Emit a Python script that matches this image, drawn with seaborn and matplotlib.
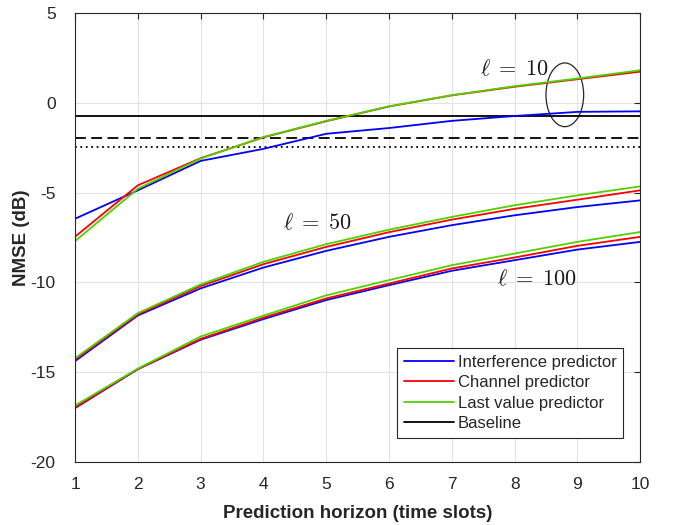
import numpy as np
import pandas as pd
import matplotlib
matplotlib.use('Agg')
import matplotlib.pyplot as plt
import seaborn as sns
from matplotlib.patches import Ellipse
from matplotlib.lines import Line2D

# Dane
horizon = [1, 2, 3, 4, 5, 6, 7, 8, 9, 10]

# l = 10
interf_10 = [-6.45, -4.87, -3.23, -2.56, -1.72, -1.40, -1.00, -0.73, -0.50, -0.47]
channel_10 = [-7.45, -4.59, -3.08, -1.92, -1.02, -0.20, 0.42, 0.90, 1.32, 1.74]
last_10 = [-7.70, -4.78, -3.10, -1.90, -1.00, -0.19, 0.43, 0.93, 1.36, 1.82]

# l = 50
interf_50 = [-14.38, -11.84, -10.33, -9.17, -8.24, -7.46, -6.81, -6.26, -5.80, -5.43]
channel_50 = [-14.29, -11.78, -10.20, -8.98, -8.02, -7.20, -6.50, -5.90, -5.39, -4.87]
last_50 = [-14.22, -11.71, -10.11, -8.85, -7.87, -7.06, -6.35, -5.70, -5.15, -4.65]

# l = 100
interf_100 = [-17.00, -14.83, -13.19, -12.04, -10.98, -10.15, -9.35, -8.76, -8.17, -7.74]
channel_100 = [-16.96, -14.82, -13.14, -11.96, -10.89, -10.06, -9.22, -8.61, -7.96, -7.46]
last_100 = [-16.85, -14.80, -13.01, -11.85, -10.72, -9.87, -9.04, -8.39, -7.74, -7.19]

baseline_levels = [-0.72, -1.95, -2.47]
baseline_styles = ['-', (0, (6, 3)), (0, (1, 2))]

ell_values = [10, 50, 100]
ell_text_pos = [(8.0, 1.85), (4.85, -6.75), (8.35, -9.85)]

predictors = ['Interference predictor', 'Channel predictor', 'Last value predictor']
colors = ['#0000ff', '#ff0000', '#4fd200']

series = {
    10: [interf_10, channel_10, last_10],
    50: [interf_50, channel_50, last_50],
    100: [interf_100, channel_100, last_100],
}

rows = []
for ell, vals in series.items():
    for name, v in zip(predictors, vals):
        for h, y in zip(horizon, v):
            rows.append({'horizon': h, 'nmse': y, 'predictor': name, 'ell': ell})
df = pd.DataFrame(rows)

sns.set_style('white')
plt.rcParams['font.family'] = ['Liberation Sans', 'DejaVu Sans']
plt.rcParams['mathtext.fontset'] = 'cm'
plt.rcParams['axes.unicode_minus'] = False

fig = plt.figure(figsize=(6.76, 5.25), dpi=100)
ax = fig.add_axes([0.111, 0.12, 0.836, 0.855])

# Baseline
for lvl, ls in zip(baseline_levels, baseline_styles):
    bdf = pd.DataFrame({'horizon': horizon, 'nmse': [lvl] * len(horizon)})
    sns.lineplot(data=bdf, x='horizon', y='nmse', color='black', linewidth=1.3,
                 linestyle=ls, ax=ax, legend=False)

sns.lineplot(data=df, x='horizon', y='nmse', hue='predictor', units='ell',
             estimator=None, palette=colors, hue_order=predictors,
             linewidth=1.3, ax=ax, legend=False)

for ell, (tx, ty) in zip(ell_values, ell_text_pos):
    ax.text(tx, ty, r'$\ell\;=\;%d$' % ell, fontsize=16, ha='center', va='center',
            color='#1a1a1a')

ax.add_patch(Ellipse((8.8, 0.45), 0.6, 3.55, fill=False, edgecolor='#262626', linewidth=0.9))

ax.set_xlim(1, 10)
ax.set_ylim(-20, 5)
ax.set_xticks(horizon)
ax.set_yticks([-20, -15, -10, -5, 0, 5])
ax.grid(True, color='#e3e3e3', linewidth=0.8)
ax.tick_params(direction='in', top=True, right=True, labelsize=12.5, colors='#262626',
               length=4, width=0.8)
ax.tick_params(axis='x', pad=11)
ax.tick_params(axis='y', pad=14)
for s in ax.spines.values():
    s.set_color('#262626')
    s.set_linewidth(0.8)

ax.set_xlabel('Prediction horizon (time slots)', fontsize=13.5, fontweight='bold',
              color='#262626', labelpad=9)
ax.set_ylabel('NMSE (dB)', fontsize=13.5, fontweight='bold', color='#262626', labelpad=0)

handles = [Line2D([], [], color=c, linewidth=1.3) for c in colors]
handles.append(Line2D([], [], color='black', linewidth=1.3))
leg = ax.legend(handles, predictors + ['Baseline'], loc='lower right',
                bbox_to_anchor=(0.985, 0.035), fontsize=12, fancybox=False,
                framealpha=1, edgecolor='#262626', handlelength=3.0,
                handletextpad=0.25, labelspacing=0.33, borderpad=0.4)
leg.get_frame().set_linewidth(0.8)

fig.savefig('out.png', dpi=100)
